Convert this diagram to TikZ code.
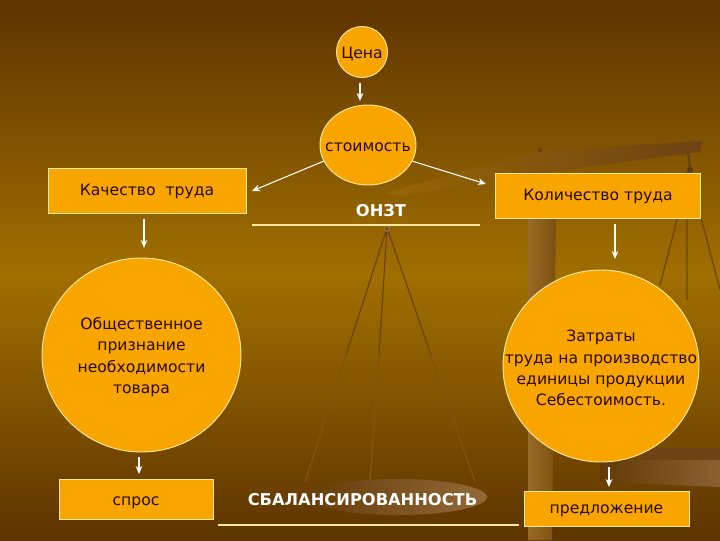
\documentclass[tikz,border=0pt]{standalone}
\usepackage{fontspec}
\setmainfont{DejaVu Sans}
\usetikzlibrary{arrows.meta,shapes.geometric}
\definecolor{bgdark}{HTML}{5E3400}
\definecolor{bgmid}{HTML}{A06F00}
\definecolor{boxfill}{HTML}{F8A500}
\definecolor{boxline}{HTML}{FFE9A0}
\definecolor{scaledark}{HTML}{6E4214}
\definecolor{scalelight}{HTML}{94693A}
\definecolor{inktext}{HTML}{2A0A00}
\tikzset{
	arrowline/.style={draw=white, line width=0.8pt, -{Stealth[length=6pt,width=5pt]}},
	rulewhite/.style={draw=boxline, line width=0.8pt},
	roundbox/.style={ellipse, draw=boxline, line width=0.7pt, fill=boxfill, inner sep=0pt},
	roundtext/.style={text=inktext, inner sep=0pt, yshift=-1.5pt, align=center, font=\fontsize{11.7}{16}\selectfont},
	flatbox/.style={rectangle, draw=boxline, line width=0.7pt, fill=boxfill, text=inktext, inner sep=0pt, text height=9.4pt, text depth=2pt, font=\fontsize{11.7}{16}\selectfont},
	whitetext/.style={text=white, inner sep=0pt, font=\fontsize{12.2}{14}\selectfont\bfseries},
	stringline/.style={line width=0.9pt}
}
\begin{document}
\begin{tikzpicture}[x=0.75pt, y=-0.75pt]
	% background
	\useasboundingbox (0,0) rectangle (720,540);
	\shade[top color=bgdark, bottom color=bgmid] (0,0) rectangle (720,275);
	\shade[top color=bgmid, bottom color=bgdark] (0,275) rectangle (720,540);
	% scales behind the diagram
	\shade[left color=bgmid!80!scaledark, right color=scaledark] (385,193) -- (493,163) -- (540,151) -- (702,141) -- (700,152) -- (563,170) -- (510,177) -- (400,196) -- cycle;
	\fill[scaledark] (540,150) circle (2.5);
	\shade[left color=scalelight!70!bgmid, right color=scaledark!70!bgmid] (528,218) -- (556,218) -- (552,540) -- (528,540) -- cycle;
	\draw[line width=2pt, color=scaledark] (688,150) -- (690,170);
	\fill[scaledark!80!black] (690,170) circle (3);
	\draw[stringline, color=scaledark] (387,228) -- (346,355) (387,228) -- (379,355) (387,228) -- (431,355);
	\draw[stringline, color=scaledark!60!bgmid] (346,355) -- (305,482) (379,355) -- (370,480) (431,355) -- (475,482);
	\draw[stringline, color=scaledark] (690,170) -- (660,285) (687,170) -- (687,300) (699,210) -- (720,290);
	\draw[stringline, color=scaledark!60!bgmid] (507,340) -- (501,385);
	\draw[line width=1.5pt, color=scalelight] (387,228) circle (3);
	\shade[left color=bgdark!85!scalelight, right color=scalelight] (397,497) ellipse (90 and 18);
	\fill[scaledark] (640,448) rectangle (720,460);
	\shade[left color=bgdark!90!scalelight, right color=scalelight!85!bgdark] (600,460) -- (720,460) -- (720,487) -- (600,482) -- cycle;
	% nodes
	\node[roundbox, minimum width=51*0.75pt, minimum height=51*0.75pt, label={[roundtext]center:Цена}] (cena) at (362,52) {};
	\node[roundbox, minimum width=96*0.75pt, minimum height=80*0.75pt, label={[roundtext]center:стоимость}] (stoimost) at (368,145) {};
	\node[flatbox, minimum width=198*0.75pt, minimum height=45*0.75pt] (kachestvo) at (147,191) {Качество\ \ труда};
	\node[flatbox, minimum width=205*0.75pt, minimum height=45*0.75pt] (kolichestvo) at (598,196) {Количество труда};
	\node[roundbox, minimum width=199*0.75pt, minimum height=194*0.75pt, label={[roundtext]center:Общественное\\признание\\необходимости\\товара}] (priznanie) at (141.5,355) {};
	\node[roundbox, minimum width=196*0.75pt, minimum height=192*0.75pt, label={[roundtext]center:Затраты\\труда на производство\\единицы продукции\\Себестоимость.}] (zatraty) at (601,366) {};
	\node[flatbox, text depth=0pt, minimum width=154*0.75pt, minimum height=40*0.75pt] (spros) at (136,499) {спрос};
	\node[flatbox, minimum width=165*0.75pt, minimum height=35*0.75pt] (predlozhenie) at (606.5,508.5) {предложение};
	\node[whitetext] (onzt) at (381,211) {ОНЗТ};
	\node[whitetext] (balans) at (362.5,500) {СБАЛАНСИРОВАННОСТЬ};
	% free ends of the connectors
	\coordinate (onztL) at (252,225);
	\coordinate (onztR) at (480,225);
	\coordinate (balansL) at (218,525);
	\coordinate (balansR) at (519,525);
	\coordinate (leftTip) at (252,191);
	\coordinate (rightTip) at (486,184);
	\coordinate (cenaOut) at (360,83);
	\coordinate (cenaIn) at (360,101);
	\coordinate (kachOut) at (144,219);
	\coordinate (kachIn) at (144,248);
	\coordinate (kolOut) at (615,224);
	\coordinate (kolIn) at (615,259);
	\coordinate (prizOut) at (139,457);
	\coordinate (prizIn) at (139,474);
	\coordinate (zatOut) at (609,467);
	\coordinate (zatIn) at (609,487);
	% connectors
	\draw[rulewhite] (onztL) -- (onztR);
	\draw[rulewhite] (balansL) -- (balansR);
	\draw[arrowline] (cenaOut) -- (cenaIn);
	\draw[arrowline] (stoimost.200) -- (leftTip);
	\draw[arrowline] (stoimost.340) -- (rightTip);
	\draw[arrowline] (kachOut) -- (kachIn);
	\draw[arrowline] (kolOut) -- (kolIn);
	\draw[arrowline] (prizOut) -- (prizIn);
	\draw[arrowline] (zatOut) -- (zatIn);
\end{tikzpicture}
\end{document}
